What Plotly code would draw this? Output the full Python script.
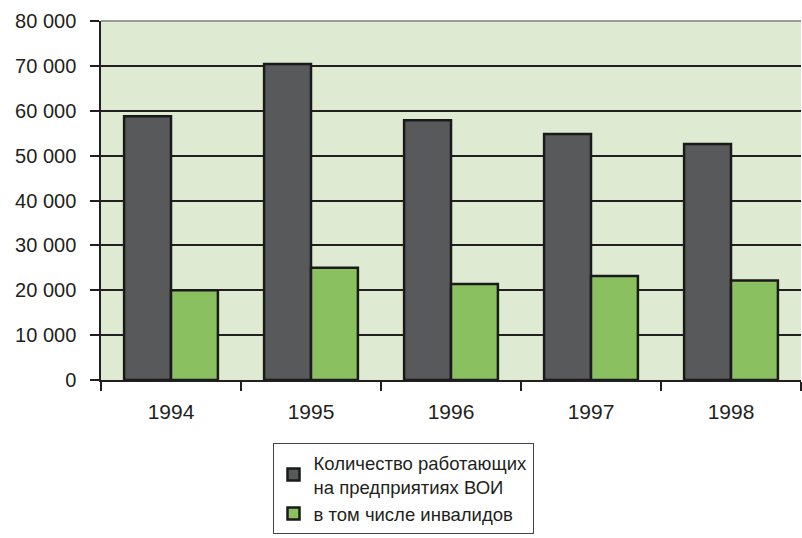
import plotly.graph_objects as go

years = ["1994", "1995", "1996", "1997", "1998"]
workers = [58800, 70400, 57900, 54800, 52600]
disabled = [20000, 25000, 21400, 23200, 22200]
y_ticks = [0, 10000, 20000, 30000, 40000, 50000, 60000, 70000, 80000]
y_labels = ["0", "10 000", "20 000", "30 000", "40 000", "50 000", "60 000", "70 000", "80 000"]

fig = go.Figure()
fig.add_trace(go.Bar(
    x=years, y=workers,
    name="Количество работающих<br>на предприятиях ВОИ",
    marker=dict(color="#58595b", line=dict(color="#1a1a1a", width=2.5)),
))
fig.add_trace(go.Bar(
    x=years, y=disabled,
    name="в том числе инвалидов",
    marker=dict(color="#8bc060", line=dict(color="#1a1a1a", width=2.5)),
))

fig.update_layout(
    width=802, height=538,
    margin=dict(l=101, r=1, t=21, b=158),
    paper_bgcolor="white",
    plot_bgcolor="#dfead3",
    barmode="group",
    bargap=0.33,
    bargroupgap=0,
    font=dict(family="Liberation Sans, Arial, sans-serif", color="#231f20"),
    showlegend=True,
    legend=dict(
        x=0.245, y=-0.175, xanchor="left", yanchor="top",
        bgcolor="white", bordercolor="#444", borderwidth=1,
        font=dict(size=18.5, color="#231f20"),
        traceorder="normal",
        itemwidth=30,
    ),
    shapes=[dict(type="line", xref="paper", yref="paper", x0=0, x1=1, y0=1, y1=1,
                 line=dict(color="#9a9a9a", width=2))],
)

fig.update_xaxes(
    type="category",
    showgrid=False,
    showline=True, linecolor="#231f20", linewidth=1.5,
    ticks="outside", tickson="boundaries", ticklen=9, tickcolor="#231f20", tickwidth=1.5,
    ticklabelstandoff=12,
    tickfont=dict(size=21, color="#231f20"),
)
fig.update_yaxes(
    range=[0, 80000],
    tickvals=y_ticks, ticktext=y_labels,
    showgrid=True, gridcolor="#231f20", gridwidth=1.5,
    showline=True, linecolor="#231f20", linewidth=1.5,
    ticks="outside", ticklen=9, tickcolor="#231f20", tickwidth=1.5,
    ticklabelstandoff=10,
    tickfont=dict(size=20, color="#231f20"),
    zeroline=False,
)

fig.write_html("out.html")
